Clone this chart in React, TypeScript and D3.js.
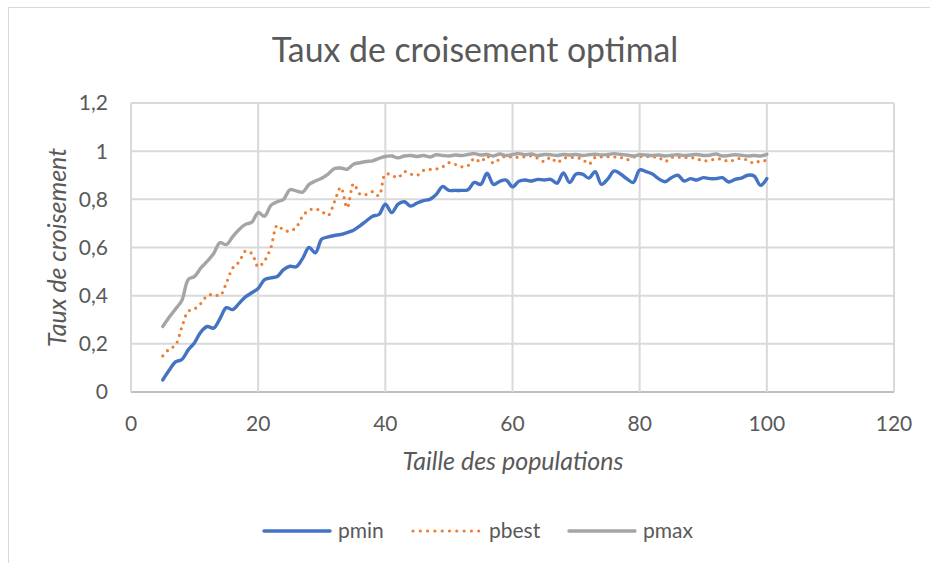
import React from "react";
import * as d3 from "d3";

const xStart = 5;
const pmin = [
  0.05, 0.09, 0.125, 0.135, 0.175, 0.205, 0.25, 0.272, 0.265, 0.305,
  0.35, 0.342, 0.368, 0.395, 0.412, 0.43, 0.467, 0.474, 0.48, 0.508,
  0.522, 0.52, 0.555, 0.6, 0.578, 0.635, 0.644, 0.65, 0.654, 0.662,
  0.672, 0.69, 0.71, 0.73, 0.737, 0.78, 0.745, 0.78, 0.79, 0.772,
  0.785, 0.795, 0.8, 0.82, 0.853, 0.837, 0.837, 0.837, 0.84, 0.87,
  0.862, 0.908, 0.862, 0.875, 0.88, 0.852, 0.875, 0.88, 0.876, 0.883,
  0.88, 0.883, 0.867, 0.91, 0.87, 0.905, 0.905, 0.888, 0.915, 0.862,
  0.885, 0.918, 0.905, 0.885, 0.87, 0.922, 0.915, 0.905, 0.885, 0.873,
  0.89, 0.9, 0.876, 0.886, 0.88, 0.89, 0.886, 0.886, 0.89, 0.872,
  0.883, 0.888, 0.9, 0.897, 0.858, 0.886,
];
const pbest = [
  0.15, 0.178, 0.195, 0.27, 0.335, 0.345, 0.368, 0.4, 0.405, 0.4,
  0.453, 0.515, 0.54, 0.585, 0.575, 0.52, 0.545, 0.6, 0.692, 0.672,
  0.668, 0.685, 0.73, 0.755, 0.76, 0.75, 0.733, 0.79, 0.85, 0.765,
  0.865, 0.822, 0.82, 0.832, 0.815, 0.905, 0.9, 0.89, 0.915, 0.905,
  0.9, 0.92, 0.924, 0.926, 0.935, 0.952, 0.945, 0.935, 0.94, 0.97,
  0.955, 0.98, 0.95, 0.968, 0.98, 0.974, 0.975, 0.977, 0.98, 0.97,
  0.957, 0.974, 0.953, 0.97, 0.974, 0.972, 0.967, 0.946, 0.974, 0.976,
  0.977, 0.976, 0.974, 0.964, 0.975, 0.978, 0.978, 0.976, 0.974, 0.957,
  0.974, 0.975, 0.974, 0.974, 0.968, 0.96, 0.962, 0.967, 0.967, 0.957,
  0.965, 0.97, 0.962, 0.95, 0.96, 0.96,
];
const pmax = [
  0.272, 0.31, 0.345, 0.38, 0.467, 0.48, 0.515, 0.543, 0.575, 0.62,
  0.612, 0.645, 0.675, 0.696, 0.705, 0.745, 0.73, 0.775, 0.79, 0.8,
  0.84, 0.835, 0.83, 0.862, 0.876, 0.888, 0.905, 0.928, 0.93, 0.925,
  0.946, 0.952, 0.957, 0.96, 0.97, 0.978, 0.98, 0.972, 0.98, 0.982,
  0.978, 0.982, 0.976, 0.985, 0.982, 0.98, 0.984, 0.982, 0.986, 0.99,
  0.984, 0.986, 0.98, 0.988, 0.982, 0.986, 0.99, 0.985, 0.988, 0.982,
  0.986, 0.985, 0.982, 0.986, 0.984, 0.986, 0.982, 0.985, 0.987, 0.984,
  0.986, 0.99, 0.986, 0.984, 0.98, 0.985, 0.984, 0.982, 0.984, 0.98,
  0.983, 0.985, 0.982, 0.984, 0.986, 0.982, 0.983, 0.988, 0.98, 0.982,
  0.985, 0.983, 0.98, 0.982, 0.98, 0.987,
];
const xTicks = [0, 20, 40, 60, 80, 100, 120];
const yTicks = [0, 0.2, 0.4, 0.6, 0.8, 1, 1.2];
const seriesNames = ["pmin", "pbest", "pmax"];
const seriesColors = ["#4472C4", "#ED7D31", "#A5A5A5"];

const FONT = "Lato, 'Open Sans', sans-serif";
const TXT = "#595959";

export default function App() {
  const x = d3.scaleLinear().domain([0, 120]).range([131, 894]);
  const y = d3.scaleLinear().domain([0, 1.2]).range([392, 103]);
  const fmt = (v: number) => String(v).replace(".", ",");
  const line = d3
    .line<number>()
    .x((_, i) => x(xStart + i))
    .y((d) => y(d))
    .curve(d3.curveCatmullRom.alpha(0.5));
  const series = [pmin, pbest, pmax];

  const legendItems = [
    { lx: 264, tx: 338 },
    { lx: 413, tx: 489 },
    { lx: 569, tx: 643 },
  ];

  return (
    <svg
      width={930}
      height={563}
      style={{ position: "absolute", left: 0, top: 0, background: "#fff" }}
    >
      <rect x={0} y={0} width={930} height={563} fill="#fff" />
      <rect x={8.5} y={7.5} width={940} height={570} fill="#fff" stroke="#D9D9D9" strokeWidth={1} />
      <text
        x={475}
        y={62}
        textAnchor="middle"
        fontFamily={FONT}
        fontWeight={400}
        fontSize={33.8}
        fill={TXT}
      >
        Taux de croisement optimal
      </text>
      {yTicks.map((t) => (
        <line
          key={"gy" + t}
          x1={x(0)}
          x2={x(120)}
          y1={y(t)}
          y2={y(t)}
          stroke={t === 0 ? "#BFBFBF" : "#D9D9D9"}
          strokeWidth={2}
        />
      ))}
      {xTicks.map((t) => (
        <line
          key={"gx" + t}
          x1={x(t)}
          x2={x(t)}
          y1={y(1.2)}
          y2={y(0)}
          stroke="#D9D9D9"
          strokeWidth={2}
        />
      ))}
      {yTicks.map((t) => (
        <text
          key={"ty" + t}
          x={108}
          y={y(t)}
          dy="0.35em"
          textAnchor="end"
          fontFamily={FONT}
          fontSize={21}
          fill={TXT}
        >
          {fmt(t)}
        </text>
      ))}
      {xTicks.map((t) => (
        <text
          key={"tx" + t}
          x={x(t)}
          y={431}
          textAnchor="middle"
          fontFamily={FONT}
          fontSize={21}
          fill={TXT}
        >
          {fmt(t)}
        </text>
      ))}
      <text
        x={513}
        y={470}
        textAnchor="middle"
        fontFamily={FONT}
        fontStyle="italic"
        fontSize={25}
        fill={TXT}
      >
        Taille des populations
      </text>
      <text
        transform={`translate(66,${(y(0) + y(1.2)) / 2}) rotate(-90)`}
        textAnchor="middle"
        fontFamily={FONT}
        fontStyle="italic"
        fontSize={25}
        fill={TXT}
      >
        Taux de croisement
      </text>
      {series.map((s, i) => (
        <path
          key={seriesNames[i]}
          d={line(s) || ""}
          fill="none"
          stroke={seriesColors[i]}
          strokeWidth={i === 1 ? 3.2 : 3.4}
          strokeLinecap="round"
          strokeLinejoin="round"
          strokeDasharray={i === 1 ? "0 6.8" : undefined}
        />
      ))}
      {seriesNames.map((n, i) => (
        <g key={"lg" + n}>
          <line
            x1={legendItems[i].lx}
            x2={legendItems[i].lx + 66}
            y1={531}
            y2={531}
            stroke={seriesColors[i]}
            strokeWidth={i === 1 ? 3.2 : 3.4}
            strokeLinecap="round"
            strokeDasharray={i === 1 ? "0 7.3" : undefined}
          />
          <text
            x={legendItems[i].tx}
            y={538}
            fontFamily={FONT}
            fontSize={21}
            fill={TXT}
          >
            {n}
          </text>
        </g>
      ))}
    </svg>
  );
}
